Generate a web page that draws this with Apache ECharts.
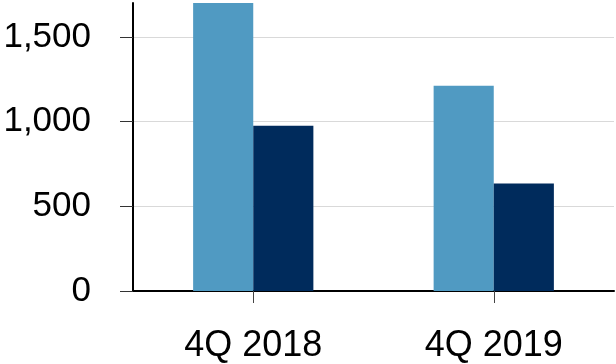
<!DOCTYPE html>
<html>
<head>
<meta charset="utf-8">
<script src="https://cdn.jsdelivr.net/npm/echarts@6/dist/echarts.min.js"></script>
<style>
  html, body { margin: 0; padding: 0; background: #fff; }
  #main { width: 616px; height: 364px; }
</style>
</head>
<body>
<div id="main"></div>
<script>
var categories = ['4Q 2018', '4Q 2019'];
var seriesA = [1700, 1212];
var seriesB = [976, 634];
var yTicks = [0, 500, 1000, 1500];

var myChart = echarts.init(document.getElementById('main'));

var option = {
  animation: false,
  textStyle: { fontFamily: 'Liberation Sans, Arial, sans-serif' },
  grid: { left: 133, right: 2, top: 3, bottom: 73, outerBoundsMode: 'none' },
  xAxis: {
    type: 'category',
    data: categories,
    axisLine: { lineStyle: { color: '#000', width: 2 } },
    axisTick: { show: true, alignWithLabel: true, length: 12, lineStyle: { color: '#444', width: 1 } },
    axisLabel: { color: '#000', fontSize: 36, margin: 37 }
  },
  yAxis: {
    type: 'value',
    min: 0,
    max: 1700,
    interval: 500,
    axisLine: { show: true, lineStyle: { color: '#000', width: 2 } },
    axisTick: { show: true, length: 13, customValues: yTicks, lineStyle: { color: '#333' } },
    axisLabel: {
      color: '#000', fontSize: 35, margin: 42, customValues: yTicks,
      formatter: function (v) { return v.toLocaleString('en-US'); }
    },
    splitLine: { lineStyle: { color: '#d9d9d9', width: 1 } }
  },
  series: [{
    type: 'bar',
    data: seriesA,
    barGap: '0%',
    barCategoryGap: '50%',
    itemStyle: { color: '#509AC2' }
  }, {
    type: 'bar',
    data: seriesB,
    itemStyle: { color: '#002B5C' }
  }]
};

myChart.setOption(option);
</script>
</body>
</html>
